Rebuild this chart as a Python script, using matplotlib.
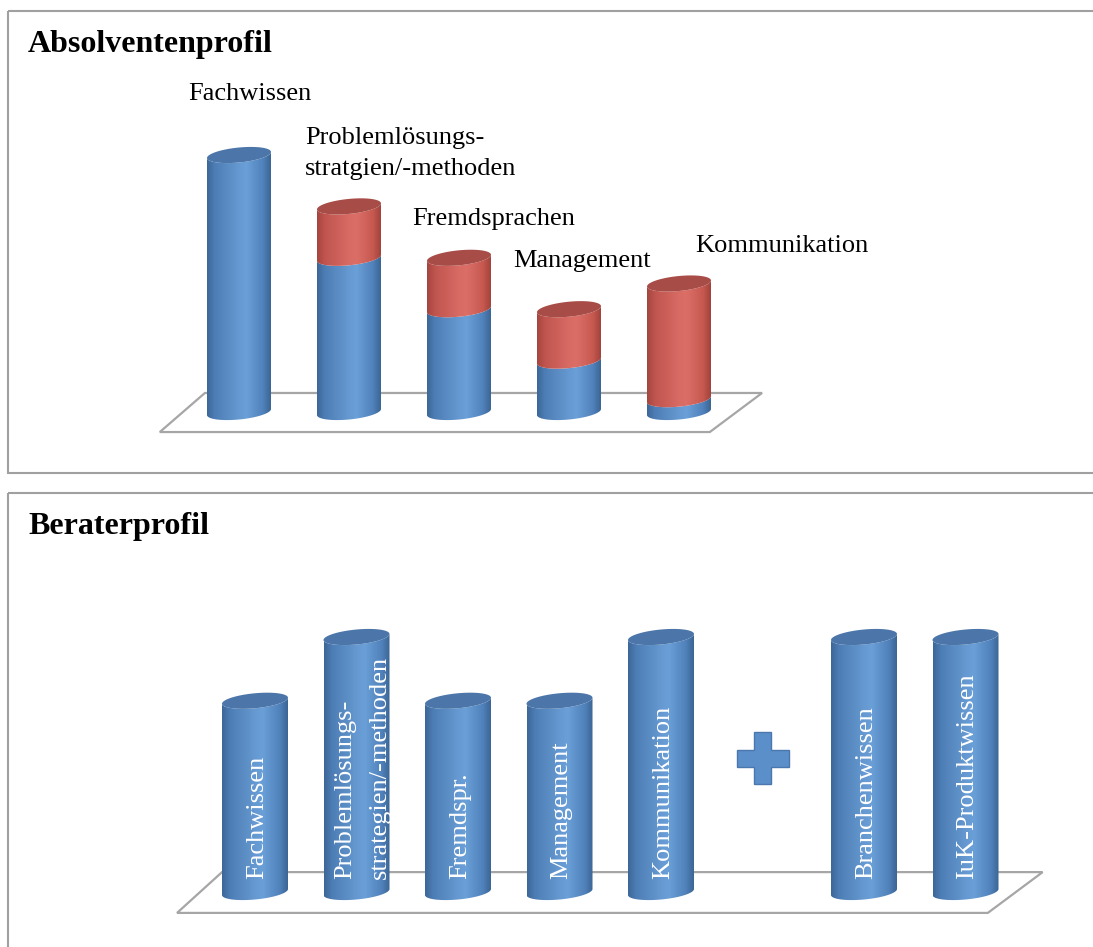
import matplotlib
matplotlib.use("Agg")
import matplotlib.pyplot as plt
import numpy as np
from matplotlib.patches import Polygon, Rectangle
from matplotlib.colors import LinearSegmentedColormap

W, H = 1093, 947
SERIF = "Liberation Serif"

# Absolventenprofil: blue = vorhandene Kompetenz, red = Lücke
grad_labels = ["Fachwissen", "Problemlösungs-\nstratgien/-methoden",
               "Fremdsprachen", "Management", "Kommunikation"]
grad_have = [100, 60, 40, 20, 5]
grad_gap = [0, 20, 20, 20, 45]

# Beraterprofil (slot 5 holds the plus sign)
cons_labels = ["Fachwissen", "Problemlösungs-\nstrategien/-methoden", "Fremdspr.",
               "Management", "Kommunikation", "Branchenwissen", "IuK-Produktwissen"]
cons_slots = [0, 1, 2, 3, 4, 6, 7]
cons_values = [75, 100, 75, 75, 100, 100, 100]

blue_body = LinearSegmentedColormap.from_list("blue_body", [
    (0, "#3c6697"), (0.12, "#4d7db5"), (0.5, "#6699d1"),
    (0.62, "#6a9fd7"), (0.88, "#5081ba"), (1, "#3b6594")])
red_body = LinearSegmentedColormap.from_list("red_body", [
    (0, "#a4453f"), (0.12, "#c0544e"), (0.5, "#d86b64"),
    (0.62, "#db6f68"), (0.88, "#c6584f"), (1, "#a0433d")])
BLUE_TOP = "#4c76a9"
RED_TOP = "#a74c46"
FLOOR = "#a6a6a6"


def chart_axes(fig, box, x0px, xstep, y0px, ystep):
    """Axes covering a pixel box, with slot index on x and value on y."""
    left, top, right, bottom = box
    ax = fig.add_axes([left / W, 1 - bottom / H, (right - left) / W, (bottom - top) / H])
    ax.set_xlim((left - x0px) / xstep, (right - x0px) / xstep)
    ax.set_ylim((y0px - bottom) / ystep, (y0px - top) / ystep)
    ax.axis("off")
    ax.xstep, ax.ystep = xstep, ystep
    return ax


def ellipse(cx, yc, a, b, tilt, t0=0, t1=2 * np.pi):
    t = np.linspace(t0, t1, 80)
    return np.column_stack([cx + a * np.cos(t), yc + b * np.sin(t) + tilt * np.cos(t)])


def segment(ax, cx, y0, y1, a, b, tilt, cmap, z):
    lower0 = ellipse(cx, y0, a, b, tilt, np.pi, 2 * np.pi)
    lower1 = ellipse(cx, y1, a, b, tilt, np.pi, 2 * np.pi)[::-1]
    body = Polygon(np.vstack([lower0, lower1]), closed=True, facecolor="none",
                   edgecolor="none", transform=ax.transData)
    ax.add_patch(body)
    grad = np.linspace(0, 1, 256).reshape(1, -1)
    pad = b + abs(tilt)
    im = ax.imshow(grad, cmap=cmap, extent=(cx - a, cx + a, y0 - pad, y1 + pad),
                   aspect="auto", interpolation="bilinear", zorder=z)
    im.set_clip_path(body)


def cylinder(ax, cx, parts, width_px, b_px=7.5, tilt_px=3):
    a = width_px / 2 / ax.xstep
    b = b_px / ax.ystep
    tilt = tilt_px / ax.ystep
    y = 0
    top_color = BLUE_TOP
    for value, cmap, tc in parts:
        if value <= 0:
            continue
        segment(ax, cx, y, y + value, a, b, tilt, cmap, 3)
        y += value
        top_color = tc
    ax.add_patch(Polygon(ellipse(cx, y, a, b, tilt), closed=True,
                         facecolor=top_color, edgecolor="none", zorder=4))


def floor(ax, xs, ys):
    ax.add_patch(Polygon(list(zip(xs, ys)), closed=True, facecolor="white",
                         edgecolor=FLOOR, lw=1.6, zorder=1))


fig = plt.figure(figsize=(W / 100, H / 100), dpi=100)
bg = fig.add_axes([0, 0, 1, 1])
bg.set_xlim(0, W)
bg.set_ylim(H, 0)
bg.axis("off")

# panel frames and titles
bg.add_patch(Rectangle((8, 11), 1110, 462, facecolor="none", edgecolor="#a0a0a0", lw=1.5))
bg.add_patch(Rectangle((8, 493), 1110, 480, facecolor="none", edgecolor="#a0a0a0", lw=1.5))
bg.text(28, 52, "Absolventenprofil", fontsize=23, fontweight="bold", family=SERIF, va="baseline")
bg.text(28, 534, "Beraterprofil", fontsize=23, fontweight="bold", family=SERIF, va="baseline")

# top chart
ax1 = chart_axes(fig, (10, 60, 1090, 470), 239, 110, 412, 2.57)
floor(ax1, [-0.72, -0.31, 4.755, 4.28], [-7.8, 7.4, 7.4, -7.8])
for i, (have, gap) in enumerate(zip(grad_have, grad_gap)):
    cylinder(ax1, i, [(have, blue_body, BLUE_TOP), (gap, red_body, RED_TOP)], 64)

# baseline of the last line of each label
label_pos = [(188, 100), (305, 175), (412, 225), (513, 267), (695, 252)]
for (lx, ly), text in zip(label_pos, grad_labels):
    bg.text(lx, ly, text, fontsize=19, family=SERIF, va="baseline", ha="left",
            linespacing=1.55)

# bottom chart
ax2 = chart_axes(fig, (10, 545, 1090, 945), 255, 101.5, 892, 2.55)
floor(ax2, [-0.768, -0.325, 7.76, 7.22], [-8.2, 7.8, 7.8, -8.2])
for slot, value, text in zip(cons_slots, cons_values, cons_labels):
    cylinder(ax2, slot, [(value, blue_body, BLUE_TOP)], 66)
    dx = 0.06 if "\n" in text else 0.02
    ax2.text(slot + dx, 5, text, rotation=90, ha="center", va="bottom", color="white",
             fontsize=19, family=SERIF, linespacing=1.7, multialignment="left", zorder=6)

# plus sign between the two groups
px, py = 5, (892 - 758) / 2.55
L, T = 26 / 101.5, 8.5 / 101.5
Ly, Ty = 26 / 2.55, 8.5 / 2.55
plus = [(px - T, py + Ly), (px + T, py + Ly), (px + T, py + Ty), (px + L, py + Ty),
        (px + L, py - Ty), (px + T, py - Ty), (px + T, py - Ly), (px - T, py - Ly),
        (px - T, py - Ty), (px - L, py - Ty), (px - L, py + Ty), (px - T, py + Ty)]
ax2.add_patch(Polygon(plus, closed=True, facecolor="#5b8fc9", edgecolor="#4a78ae",
                      lw=1, zorder=4))

fig.savefig("out.png", dpi=100)
plt.close(fig)
